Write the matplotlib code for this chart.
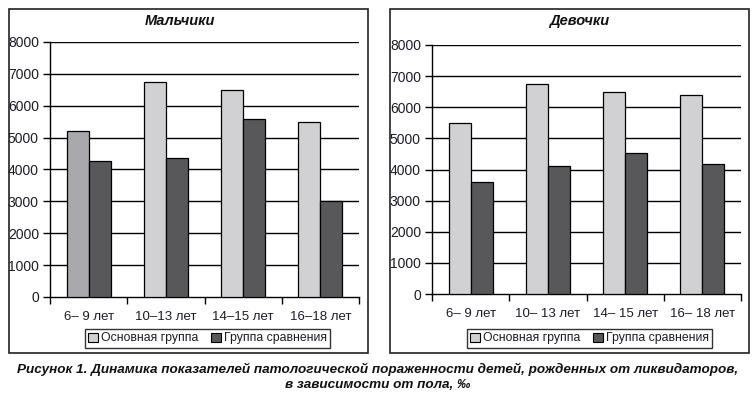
import matplotlib
matplotlib.use("Agg")
import matplotlib.pyplot as plt
import numpy as np
from matplotlib.patches import Rectangle, Patch

plt.rcParams['font.family'] = ['Liberation Sans', 'DejaVu Sans']

categories_boys = ["6– 9 лет", "10–13 лет", "14–15 лет", "16–18 лет"]
categories_girls = ["6– 9 лет", "10– 13 лет", "14– 15 лет", "16– 18 лет"]
boys_main = [5200, 6730, 6480, 5480]
boys_comp = [4280, 4350, 5570, 3000]
girls_main = [5500, 6750, 6500, 6400]
girls_comp = [3600, 4100, 4520, 4180]
yticks = [0, 1000, 2000, 3000, 4000, 5000, 6000, 7000, 8000]
series_names = ["Основная группа", "Группа сравнения"]

W, H = 755, 398
fig = plt.figure(figsize=(W / 100, H / 100), dpi=100)

C_MAIN = "#d1d1d3"
C_MAIN_ALT = "#a9a9ad"
C_COMP = "#58585a"
TXT = "#1c1c28"


def fx(px):
    return px / W


def fy(py):
    return 1 - py / H


def panel(x0, x1, ytop, ybot, box, title, title_x, cats, main, comp, main_colors):
    bx0, by0, bx1, by1 = box
    fig.add_artist(Rectangle((fx(bx0), fy(by1)), fx(bx1 - bx0), (by1 - by0) / H,
                             transform=fig.transFigure, fill=False,
                             edgecolor="#222222", linewidth=1.2))
    ax = fig.add_axes([fx(x0), fy(ybot), fx(x1 - x0), (ybot - ytop) / H])
    x = np.arange(len(cats))
    w = 0.285
    ax.bar(x - w / 2, main, width=w, color=main_colors, edgecolor="black",
           linewidth=0.9, zorder=3)
    ax.bar(x + w / 2, comp, width=w, color=C_COMP, edgecolor="black",
           linewidth=0.9, zorder=3)
    ax.set_xlim(-0.5, len(cats) - 0.5)
    ax.set_ylim(0, 8000)
    ax.set_yticks(yticks)
    ax.set_yticklabels([str(v) for v in yticks], fontsize=10, color=TXT)
    for v in yticks[1:]:
        ax.axhline(v, color="black", linewidth=1.0, zorder=1)
    ax.set_xticks(x)
    ax.set_xticklabels(cats, fontsize=9.5, color=TXT)
    ax.tick_params(axis="x", which="major", length=0, pad=10)
    ax.set_xticks(np.arange(-0.5, len(cats), 1.0), minor=True)
    ax.tick_params(axis="x", which="minor", length=5, width=1.0, direction="out")
    ax.tick_params(axis="y", length=5, width=1.0, direction="out", pad=3)
    for s in ["top", "right"]:
        ax.spines[s].set_visible(False)
    for s in ["left", "bottom"]:
        ax.spines[s].set_linewidth(1.0)
        ax.spines[s].set_color("black")
    fig.text(fx(title_x), fy(21), title, ha="center", va="center",
             fontsize=10.5, fontweight="bold", fontstyle="italic", color="#111111")
    handles = [Patch(facecolor=C_MAIN, edgecolor="black", linewidth=0.8),
               Patch(facecolor=C_COMP, edgecolor="black", linewidth=0.8)]
    leg = fig.legend(handles, series_names, loc="center",
                     bbox_to_anchor=(fx((x0 + x1) / 2 + 3), fy(338.5)),
                     ncol=2, frameon=True, fancybox=False, fontsize=8.8,
                     handlelength=0.8, handleheight=0.8, handletextpad=0.3,
                     columnspacing=1.0, borderpad=0.25, borderaxespad=0)
    leg.get_frame().set_edgecolor("black")
    leg.get_frame().set_linewidth(1.0)
    for t in leg.get_texts():
        t.set_color(TXT)
    return ax


panel(50, 359, 42, 297, (9, 9, 368, 353), "Мальчики", 180, categories_boys,
      boys_main, boys_comp, [C_MAIN_ALT, C_MAIN, C_MAIN, C_MAIN])
panel(432, 741, 45, 294, (390, 9, 749, 353), "Девочки", 579, categories_girls,
      girls_main, girls_comp, C_MAIN)

cap_font = ['Liberation Sans', 'DejaVu Sans']
fig.text(0.5, fy(369), "Рисунок 1. Динамика показателей патологической пораженности детей, рожденных от ликвидаторов,",
         ha="center", va="center", fontsize=9.7, fontweight="bold",
         fontstyle="italic", family=cap_font, color="#111111")
fig.text(0.5, fy(385), "в зависимости от пола, ‰",
         ha="center", va="center", fontsize=9.7, fontweight="bold",
         fontstyle="italic", family=cap_font, color="#111111")

fig.savefig("out.png", dpi=100)
